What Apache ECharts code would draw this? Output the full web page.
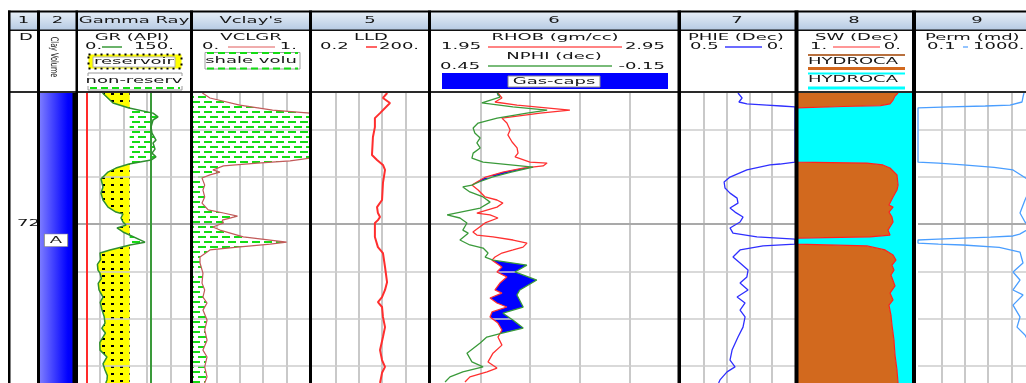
<!DOCTYPE html>
<html>
<head>
<meta charset="utf-8">
<script src="https://cdn.jsdelivr.net/npm/echarts@6/dist/echarts.min.js"></script>
<style>
html,body{margin:0;padding:0;background:#fff;overflow:hidden}
#c{width:1026px;height:383px}
</style>
</head>
<body>
<div id="c"></div>
<script>
// ---------------- log data (depth, value) ----------------
const depthTicks = [7216, 7218, 7220, 7222, 7224, 7226];
const depthMajor = 7220;
const depthLabel = '7220';
const trackTitles = ['1', '2', 'Gamma Ray', "Vclay's", '5', '6', '7', '8', '9'];

const clayZoneTop = [7212.0];
const clayZoneBottom = [7229.36];
const clayZoneName = ['A'];

const grCutoff = 68;   // reservoir / non-reservoir split
const grClean = 14;
const grShale = 94;

const grCurve = [
  [7214.46,34.0],[7214.54,35.8],[7214.88,47.1],[7215.09,67.2],[7215.31,97.3],[7215.47,103.6],
  [7215.60,97.3],[7215.90,94.8],[7216.15,96.0],[7216.45,101.0],[7216.57,97.3],[7216.83,99.8],
  [7217.00,96.0],[7217.16,101.0],[7217.29,94.8],[7217.46,67.2],[7217.63,50.8],[7217.80,40.8],
  [7218.09,32.0],[7218.43,34.5],[7218.69,32.0],[7218.98,34.5],[7219.28,40.8],[7219.49,50.8],
  [7219.57,59.6],[7219.74,57.1],[7219.91,59.6],[7220.04,63.4],[7220.16,52.1],[7220.33,59.6],
  [7220.76,87.2],[7220.88,68.4],[7221.09,43.3],[7221.22,30.8],[7221.50,31.5],[7221.70,27.5],
  [7221.94,28.2],[7222.07,30.8],[7222.30,32.5],[7222.50,28.5],[7222.78,29.5],[7223.08,34.5],
  [7223.30,31.0],[7223.63,33.3],[7223.90,36.0],[7224.18,37.0],[7224.40,33.0],[7224.60,37.5],
  [7224.77,34.5],[7225.00,30.5],[7225.32,30.8],[7225.61,39.5],[7225.90,34.5],[7226.16,37.0],
  [7226.40,40.0],[7226.58,39.5],[7226.71,38.0]
];

const vclCurve = [
  [7214.46,0.08],[7214.54,0.085],[7214.67,0.145],[7214.97,0.40],[7215.18,0.68],[7215.31,1.0],
  [7217.21,1.0],[7217.33,0.83],[7217.42,0.55],[7217.54,0.26],[7217.71,0.17],[7217.80,0.23],
  [7217.92,0.145],[7218.05,0.077],[7218.35,0.10],[7218.56,0.085],[7218.85,0.10],[7219.11,0.077],
  [7219.40,0.13],[7219.53,0.26],[7219.66,0.38],[7219.83,0.25],[7219.95,0.26],[7220.12,0.17],
  [7220.25,0.23],[7220.54,0.43],[7220.76,0.80],[7220.84,0.66],[7220.97,0.38],[7221.09,0.145],
  [7221.39,0.06],[7221.64,0.06],[7222.07,0.085],[7222.49,0.077],[7222.78,0.10],[7223.08,0.085],
  [7223.33,0.12],[7223.63,0.085],[7224.05,0.12],[7224.47,0.10],[7224.90,0.12],[7225.32,0.085],
  [7225.61,0.12],[7226.03,0.10],[7226.45,0.12],[7226.71,0.10]
];

const lldCurve = [
  [7214.46,17.0],[7214.54,17.8],[7214.67,13.2],[7214.88,20.0],[7215.31,11.1],[7215.52,8.2],
  [7215.90,8.2],[7216.32,7.3],[7217.08,6.9],[7217.29,9.3],[7217.50,13.2],[7217.71,14.9],
  [7218.26,13.2],[7218.98,12.5],[7219.28,9.3],[7219.53,9.8],[7219.70,11.1],[7219.83,9.8],
  [7219.95,8.2],[7220.54,8.2],[7220.97,9.8],[7221.22,13.2],[7221.81,14.9],[7222.45,16.8],
  [7222.78,14.9],[7223.08,12.5],[7223.29,9.8],[7223.50,12.5],[7223.92,13.2],[7224.35,14.9],
  [7224.77,13.2],[7225.32,11.1],[7225.74,12.5],[7226.03,14.9],[7226.28,12.5],[7226.71,11.1]
];

const rhobCurve = [
  [7214.46,2.22],[7214.54,2.216],[7214.67,2.236],[7214.84,2.208],[7214.97,2.297],[7215.18,2.51],
  [7215.31,2.39],[7215.52,2.236],[7215.73,2.256],[7216.02,2.269],[7216.23,2.26],[7216.53,2.277],
  [7216.78,2.297],[7217.00,2.301],[7217.16,2.289],[7217.38,2.349],[7217.42,2.418],[7217.54,2.402],
  [7217.63,2.321],[7217.80,2.24],[7218.01,2.17],[7218.22,2.135],[7218.35,2.115],[7218.56,2.14],
  [7218.85,2.168],[7218.98,2.216],[7219.11,2.24],[7219.28,2.216],[7219.49,2.148],[7219.53,2.135],
  [7219.61,2.188],[7219.74,2.22],[7219.95,2.168],[7220.33,2.119],[7220.46,2.135],[7220.54,2.2],
  [7220.67,2.281],[7220.80,2.337],[7220.97,2.321],[7221.09,2.281],[7221.22,2.236],[7221.39,2.208],
  [7221.52,2.196],[7221.81,2.236],[7222.02,2.216],[7222.23,2.256],[7222.49,2.228],[7222.78,2.208],
  [7222.91,2.236],[7223.12,2.188],[7223.33,2.216],[7223.50,2.256],[7223.71,2.196],[7223.92,2.188],
  [7224.18,2.22],[7224.47,2.236],[7224.77,2.22],[7225.11,2.236],[7225.45,2.2],[7225.82,2.18],
  [7226.08,2.216],[7226.24,2.176],[7226.45,2.107],[7226.67,2.087]
];

const nphiCurve = [
  [7214.46,0.29],[7214.54,0.288],[7214.63,0.283],[7214.88,0.327],[7215.05,0.252],[7215.18,0.169],
  [7215.31,0.218],[7215.52,0.29],[7215.73,0.336],[7215.94,0.348],[7216.15,0.344],[7216.36,0.331],
  [7216.57,0.339],[7216.78,0.331],[7217.00,0.348],[7217.21,0.351],[7217.38,0.324],[7217.59,0.203],
  [7217.80,0.256],[7218.01,0.302],[7218.22,0.334],[7218.35,0.351],[7218.43,0.373],[7218.64,0.356],
  [7218.85,0.324],[7219.07,0.307],[7219.32,0.331],[7219.61,0.411],[7219.74,0.38],[7219.95,0.363],
  [7220.25,0.373],[7220.38,0.36],[7220.67,0.38],[7220.88,0.356],[7221.01,0.324],[7221.22,0.312],
  [7221.39,0.319],[7221.52,0.30],[7221.73,0.218],[7222.02,0.247],[7222.36,0.194],[7222.78,0.235],
  [7222.99,0.242],[7223.50,0.227],[7223.76,0.276],[7224.05,0.252],[7224.39,0.227],[7224.60,0.278],
  [7224.77,0.315],[7225.02,0.331],[7225.45,0.363],[7225.82,0.351],[7226.03,0.324],[7226.24,0.373],
  [7226.45,0.404],[7226.67,0.416]
];

const phieCurve = [
  [7214.46,0.25],[7214.67,0.232],[7214.84,0.246],[7214.92,0.211],[7214.97,0.123],[7215.01,0.06],
  [7215.05,0.0],[7217.38,0.0],[7217.46,0.066],[7217.50,0.11],[7217.71,0.211],[7218.01,0.285],
  [7218.22,0.311],[7218.47,0.307],[7218.69,0.285],[7218.90,0.254],[7219.11,0.25],[7219.32,0.285],
  [7219.49,0.263],[7219.70,0.228],[7219.91,0.241],[7220.16,0.285],[7220.38,0.272],[7220.54,0.167],
  [7220.63,0.0],[7220.84,0.0],[7220.92,0.14],[7221.09,0.241],[7221.39,0.272],[7221.64,0.241],
  [7221.94,0.206],[7222.23,0.211],[7222.49,0.241],[7222.78,0.206],[7223.08,0.254],[7223.33,0.219],
  [7223.63,0.241],[7223.92,0.219],[7224.35,0.228],[7224.77,0.25],[7225.32,0.276],[7225.74,0.285],
  [7226.03,0.263],[7226.24,0.298],[7226.58,0.329],[7226.71,0.335]
];

const swCurve = [
  [7214.46,0.129],[7214.59,0.155],[7214.76,0.172],[7214.92,0.198],[7214.99,0.28],[7215.03,0.6],
  [7215.09,1.0],[7217.38,1.0],[7217.42,0.397],[7217.50,0.26],[7217.63,0.198],[7217.92,0.138],
  [7218.35,0.129],[7218.56,0.138],[7218.85,0.172],[7219.19,0.207],[7219.28,0.172],[7219.49,0.207],
  [7219.70,0.181],[7219.91,0.172],[7220.25,0.216],[7220.46,0.198],[7220.54,0.37],[7220.59,1.0],
  [7220.84,1.0],[7220.92,0.397],[7221.09,0.241],[7221.30,0.172],[7221.52,0.147],[7221.73,0.181],
  [7221.94,0.164],[7222.15,0.19],[7222.61,0.155],[7222.91,0.198],[7223.20,0.172],[7223.42,0.207],
  [7223.84,0.19],[7224.26,0.181],[7224.90,0.164],[7225.53,0.155],[7226.16,0.138],[7226.71,0.129]
];

const permCurve = [
  [7214.46,420],[7214.63,389],[7214.84,360],[7214.97,140],[7215.01,20],[7215.05,1.2],[7215.09,0.1],
  [7217.38,0.1],[7217.42,0.5],[7217.50,3.5],[7217.60,40],[7217.71,177],[7218.13,600],[7218.56,650],
  [7218.98,455],[7219.53,307],[7219.91,455],[7220.16,700],[7220.42,300],[7220.50,177],[7220.55,30],
  [7220.59,3.45],[7220.64,0.3],[7220.67,0.1],[7220.80,0.1],[7220.84,0.5],[7220.88,3.45],[7220.98,60],
  [7221.18,307],[7221.64,389],[7222.02,177],[7222.36,307],[7222.78,177],[7222.99,389],[7223.42,177],
  [7223.92,307],[7224.35,243],[7224.68,455],[7225.11,700],[7225.74,900],[7226.71,900]
];

// ---------------- scales ----------------
const depthTop = 7214.46, depthBottom = 7226.71;
const GR = [0, 150], VCL = [0, 1], LLD = [0.2, 200], RHOB = [1.95, 2.95], NPHI = [-0.15, 0.45],
      PHIE = [0, 0.5], SW = [0, 1], PERM = [0.1, 1000];

const lin = r => v => (v - r[0]) / (r[1] - r[0]);
const rev = r => v => (r[1] - v) / (r[1] - r[0]);

// piecewise-linear lookup of a curve's track fraction at depth d
function profile(curve, f) {
  const ds = curve.map(p => p[0]), fs = curve.map(p => f(p[1]));
  const fn = d => {
    if (d <= ds[0]) return fs[0];
    if (d >= ds[ds.length - 1]) return fs[fs.length - 1];
    let i = 1; while (ds[i] < d) i++;
    const t = (d - ds[i - 1]) / (ds[i] - ds[i - 1]);
    return fs[i - 1] + t * (fs[i] - fs[i - 1]);
  };
  fn.depths = ds;
  return fn;
}
const constant = c => { const fn = () => c; fn.depths = []; return fn; };

// polygons (in [fraction, depth]) where rightF(d) > leftF(d)
function band(leftF, rightF) {
  let ds = leftF.depths.concat(rightF.depths);
  const lo = Math.max(leftF.depths.length ? leftF.depths[0] : -Infinity, rightF.depths.length ? rightF.depths[0] : -Infinity);
  const hi = Math.min(leftF.depths.length ? leftF.depths[leftF.depths.length - 1] : Infinity, rightF.depths.length ? rightF.depths[rightF.depths.length - 1] : Infinity);
  ds = Array.from(new Set(ds)).filter(d => d >= lo && d <= hi).sort((a, b) => a - b);
  const polys = []; let cur = null;
  for (let i = 0; i < ds.length; i++) {
    const d = ds[i], l = leftF(d), r = rightF(d), g = r - l;
    if (i > 0) {
      const dp = ds[i - 1], lp = leftF(dp), gp = rightF(dp) - lp;
      if ((gp > 0) !== (g > 0)) {
        const t = gp / (gp - g);
        const dc = dp + t * (d - dp), xc = lp + t * (l - lp);
        if (cur) { cur.L.push([xc, dc]); cur.R.push([xc, dc]); polys.push(cur); cur = null; }
        else cur = { L: [[xc, dc]], R: [[xc, dc]] };
      }
    }
    if (g > 0) { if (!cur) cur = { L: [], R: [] }; cur.L.push([l, d]); cur.R.push([r, d]); }
  }
  if (cur) polys.push(cur);
  return polys.map(p => p.L.concat(p.R.slice().reverse()));
}

// ---------------- fill patterns ----------------
function pattern(w, h, bg, draw) {
  const c = document.createElement('canvas');
  c.width = w; c.height = h;
  const g = c.getContext('2d');
  g.fillStyle = bg; g.fillRect(0, 0, w, h);
  draw(g);
  return { image: c, repeat: 'repeat' };
}
const sandFill = pattern(9, 7, '#ffff00', g => { g.fillStyle = '#000'; g.fillRect(3, 2, 3, 2); });
const shaleFill = pattern(24, 10, '#ffffff', g => {
  g.fillStyle = '#14dc14';
  g.fillRect(0, 1, 8, 2); g.fillRect(12, 1, 8, 2);
  g.fillRect(6, 6, 8, 2); g.fillRect(18, 6, 6, 2); g.fillRect(0, 6, 2, 2);
});

// ---------------- chart assembly ----------------
const grids = [], xAxes = [], yAxes = [], series = [];
const TOP = 93, H = 290;

function track(left, width, gridLines, depthLines) {
  const gi = grids.length;
  grids.push({ left, top: TOP, width, height: H, show: false, containLabel: false, outerBoundsMode: 'none' });
  yAxes.push({ type: 'value', gridIndex: gi, inverse: true, min: depthTop, max: depthBottom, show: false });
  const xi = xAxes.length;
  xAxes.push({
    type: 'value', gridIndex: gi, min: 0, max: 1, interval: 0.2, show: true,
    axisLine: { show: false }, axisTick: { show: false }, axisLabel: { show: false },
    splitLine: { show: gridLines, showMinLine: false, showMaxLine: false, lineStyle: { color: '#c9c9c9', width: 2 } }
  });
  if (depthLines) {
    series.push({
      type: 'line', xAxisIndex: xi, yAxisIndex: gi, data: [], silent: true, z: 1, animation: false,
      markLine: {
        silent: true, symbol: 'none', animation: false, label: { show: false },
        data: depthTicks.map(d => ({ yAxis: d, lineStyle: { color: d === depthMajor ? '#a9a9a9' : '#cdcdcd', width: d === depthMajor ? 2 : 1.5, type: 'solid' } }))
      }
    });
  }
  return { gi, xi };
}
function dataAxis(gi, opts) {
  xAxes.push(Object.assign({ gridIndex: gi, show: false }, opts));
  return xAxes.length - 1;
}
function curve(gi, xi, data, color, width) {
  series.push({
    type: 'line', xAxisIndex: xi, yAxisIndex: gi, data: data.map(p => [p[1], p[0]]),
    showSymbol: false, symbol: 'none', silent: true, animation: false, clip: true, z: 6,
    lineStyle: { color, width }
  });
}
function fill(gi, xi, polys, fillStyle) {
  series.push({
    type: 'custom', xAxisIndex: xi, yAxisIndex: gi, data: [[0.5, (depthTop + depthBottom) / 2]],
    silent: true, animation: false, clip: true, z: 3,
    renderItem: (params, api) => ({
      type: 'group',
      children: polys.map(p => ({ type: 'polygon', shape: { points: p.map(q => api.coord(q)) }, style: { fill: fillStyle, stroke: null } }))
    })
  });
}
function vline(gi, xi, value, color) {
  series.push({
    type: 'line', xAxisIndex: xi, yAxisIndex: gi, data: [], silent: true, z: 4, animation: false,
    markLine: { silent: true, symbol: 'none', animation: false, label: { show: false },
      data: [{ xAxis: value, lineStyle: { color, width: 2, type: 'solid' } }] }
  });
}

const FONT = '9px "DejaVu Sans", Verdana, sans-serif';

// track 2: clay volume zones
const tClay = track(40, 33, false, false);
const clayGradient = new echarts.graphic.LinearGradient(0, 0, 1, 0, [
  { offset: 0, color: '#7b7bff' }, { offset: 0.85, color: '#0000ff' }, { offset: 1, color: '#0000f0' }
]);
series.push({
  type: 'custom', xAxisIndex: tClay.xi, yAxisIndex: tClay.gi, silent: true, animation: false, z: 3,
  data: clayZoneName.map((n, i) => [0.5, (clayZoneTop[i] + clayZoneBottom[i]) / 2]),
  renderItem: (params, api) => {
    const i = params.dataIndex, cs = params.coordSys;
    const p0 = api.coord([0, clayZoneTop[i]]), p1 = api.coord([1, clayZoneBottom[i]]);
    const r = echarts.graphic.clipRectByRect(
      { x: p0[0], y: p0[1], width: p1[0] - p0[0], height: p1[1] - p0[1] },
      { x: cs.x, y: cs.y, width: cs.width, height: cs.height });
    const mid = api.coord([0.5, (clayZoneTop[i] + clayZoneBottom[i]) / 2]);
    return { type: 'group', children: [
      { type: 'rect', shape: r, style: { fill: clayGradient } },
      { type: 'text', x: mid[0] - 0.5, y: mid[1], scaleX: 2, z2: 10,
        style: { text: clayZoneName[i], font: FONT, fill: '#222', align: 'center', verticalAlign: 'middle',
                 backgroundColor: '#fff', borderColor: '#8a8a8a', borderWidth: 0.5, padding: [2, 2.5, 1, 2.5] } }
    ] };
  }
});

// track 3: gamma ray with reservoir / non-reservoir shading
const tGr = track(75.5, 119.5, true, true);
const xGr = dataAxis(tGr.gi, { type: 'value', min: GR[0], max: GR[1] });
const grF = profile(grCurve, lin(GR));
fill(tGr.gi, tGr.xi, band(grF, constant(lin(GR)(grCutoff))), sandFill);
fill(tGr.gi, tGr.xi, band(constant(lin(GR)(grCutoff)), grF), shaleFill);
vline(tGr.gi, xGr, grClean, '#ff2a2a');
vline(tGr.gi, xGr, grShale, '#3a9a3a');
curve(tGr.gi, xGr, grCurve, '#2f8f2f', 1.5);

// track 4: clay volume from GR
const tVcl = track(193, 117, true, true);
const xVcl = dataAxis(tVcl.gi, { type: 'value', min: VCL[0], max: VCL[1] });
fill(tVcl.gi, tVcl.xi, band(constant(0), profile(vclCurve, lin(VCL))), shaleFill);
curve(tVcl.gi, xVcl, vclCurve, '#c25a5a', 1.2);

// track 5: deep resistivity
const tLld = track(312, 117, true, true);
const xLld = dataAxis(tLld.gi, { type: 'log', logBase: 10, min: LLD[0], max: LLD[1] });
curve(tLld.gi, xLld, lldCurve, '#ff2e2e', 2);

// track 6: density / neutron with gas crossover
const tDen = track(431, 248, true, true);
const xRhob = dataAxis(tDen.gi, { type: 'value', min: RHOB[0], max: RHOB[1] });
const xNphi = dataAxis(tDen.gi, { type: 'value', min: NPHI[0], max: NPHI[1], inverse: true });
fill(tDen.gi, tDen.xi, band(profile(rhobCurve, lin(RHOB)), profile(nphiCurve, rev(NPHI))), '#0000ff');
curve(tDen.gi, xRhob, rhobCurve, '#ff3030', 1.3);
curve(tDen.gi, xNphi, nphiCurve, '#3a9a3a', 1.3);

// track 7: effective porosity
const tPhie = track(681, 114, true, true);
const xPhie = dataAxis(tPhie.gi, { type: 'value', min: PHIE[0], max: PHIE[1], inverse: true });
curve(tPhie.gi, xPhie, phieCurve, '#2f2fff', 1.3);

// track 8: water saturation
const tSw = track(797, 116, false, false);
const xSw = dataAxis(tSw.gi, { type: 'value', min: SW[0], max: SW[1], inverse: true });
const swF = profile(swCurve, rev(SW));
fill(tSw.gi, tSw.xi, band(constant(0), swF), '#d2691e');
fill(tSw.gi, tSw.xi, band(swF, constant(1)), '#00ffff');
curve(tSw.gi, xSw, swCurve, '#ff2020', 1.2);

// track 9: permeability
const tPerm = track(918, 117, true, true);
const xPerm = dataAxis(tPerm.gi, { type: 'log', logBase: 10, min: PERM[0], max: PERM[1] });
curve(tPerm.gi, xPerm, permCurve, '#4a9eff', 1.3);

const chart = echarts.init(document.getElementById('c'), null, { renderer: 'canvas' });
chart.setOption({
  animation: false,
  backgroundColor: '#ffffff',
  grid: grids, xAxis: xAxes, yAxis: yAxes, series
});

// ---------------- headers, borders and depth annotation ----------------
const G = [];
function T(x, y, s, align, styleExtra, extra) {
  G.push(Object.assign({
    type: 'text', x, y, scaleX: 2, z: 130, silent: true,
    style: Object.assign({ text: s, font: FONT, fill: '#141414', align: align || 'center', verticalAlign: 'middle' }, styleExtra || {})
  }, extra || {}));
}
function R(x, y, w, h, style, z) { G.push({ type: 'rect', shape: { x, y, width: w, height: h }, style, z: z || 110, silent: true }); }
function L(x1, y1, x2, y2, stroke, lw, dash) {
  G.push({ type: 'line', shape: { x1, y1, x2, y2 }, style: { stroke, lineWidth: lw || 1, lineDash: dash || null }, z: 115, silent: true });
}

// title row
R(8, 12, 1018, 18, { fill: new echarts.graphic.LinearGradient(0, 0, 0, 1, [{ offset: 0, color: '#e6eef7' }, { offset: 1, color: '#b6cae3' }]) });
R(8, 31, 1018, 60, { fill: '#ffffff' }, 105);
const titleX = [23.5, 57.5, 134, 251, 370, 554, 737, 854, 977];
trackTitles.forEach((t, i) => T(titleX[i], 21, t));

// frame
R(8, 10.5, 1018, 2, { fill: '#000' }, 120);
R(8, 29.5, 1018, 1.5, { fill: '#111' }, 120);
R(8, 91, 1018, 2, { fill: '#2a2a2a' }, 120);
[[8, 2.5], [37, 3], [75.5, 2.5], [190, 3], [309, 3], [428, 3], [677.5, 3.5], [794.5, 4], [912, 4]]
  .forEach(b => R(b[0], 10.5, b[1], 373, { fill: '#000' }, 120));
R(72.5, 93, 3.5, 290, { fill: '#000' }, 120);

// track 1 / 2 headers
T(26, 37.5, 'D');
G.push({ type: 'text', x: 54, y: 57, rotation: -Math.PI / 2, scaleY: 1.6, z: 130, silent: true,
  style: { text: 'Clay Volume', font: '6.5px "DejaVu Sans", sans-serif', fill: '#141414', align: 'center', verticalAlign: 'middle' } });

// gamma ray header
T(132, 37.5, 'GR (API)');
T(85, 47, '0.', 'left');
L(102, 47, 122, 47, '#3a9a3a', 1.5);
T(174, 47, '150.', 'right');
R(88.5, 54.5, 93, 14, { fill: '#ffff00', stroke: '#000', lineWidth: 2, lineDash: [2, 4] });
R(93, 57, 82, 10, { fill: '#ffffff', stroke: '#b0b0b0', lineWidth: 1 }, 112);
T(134, 62, 'reservoir');
L(88, 73, 182, 73, '#9a9a9a', 1); L(88, 73, 88, 76, '#9a9a9a', 1); L(182, 73, 182, 76, '#9a9a9a', 1);
T(134, 81, 'non-reserv');
L(88, 90, 182, 90, '#9a9a9a', 1); L(88, 86, 88, 90, '#9a9a9a', 1); L(182, 86, 182, 90, '#9a9a9a', 1);
L(90, 88, 180, 88, '#14dc14', 2, [7, 4]);

// vclay header
T(251, 37.5, 'VCLGR');
T(202, 47, '0.', 'left');
L(228, 47, 275, 47, '#e05a5a', 1);
T(297, 47, '1.', 'right');
R(205, 52.5, 95, 16.5, { fill: null, stroke: '#a0a0a0', lineWidth: 1 });
L(207, 53, 298, 53, '#14dc14', 2, [7, 4]);
L(207, 68.5, 298, 68.5, '#14dc14', 2, [7, 4]);
T(251, 61, 'shale volu');

// resistivity header
T(371, 37.5, 'LLD');
T(320, 47, '0.2', 'left');
L(366, 47, 377, 47, '#ff3030', 1.5);
T(379, 47, '200.', 'left');

// density / neutron header
T(555, 37.5, 'RHOB (gm/cc)');
T(441, 47, '1.95', 'left');
L(488, 47, 622, 47, '#ff5a5a', 1.5);
T(665, 47, '2.95', 'right');
T(554, 57, 'NPHI (dec)');
T(440, 66.5, '0.45', 'left');
L(488, 66, 612, 66, '#79bb79', 2);
T(665, 66.5, '-0.15', 'right');
R(442, 73, 226, 16, { fill: '#0000ff' });
R(508, 76, 92, 11, { fill: '#ffffff', stroke: '#8a8a8a', lineWidth: 1 }, 112);
T(554, 81.5, 'Gas-caps');

// porosity header
T(688, 37.5, 'PHIE (Dec)', 'left');
T(690, 47, '0.5', 'left');
L(725, 47, 762, 47, '#3b3bff', 1.5);
T(784, 47, '0.', 'right');

// saturation header
T(857, 37.5, 'SW (Dec)');
T(810, 47, '1.', 'left');
L(833, 47, 880, 47, '#ff3030', 1.2);
T(901, 47, '0.', 'right');
L(808, 55, 905, 55, '#b8703e', 2);
T(808, 61.5, 'HYDROCA', 'left');
R(808, 67, 97, 3, { fill: '#d2691e' });
R(808, 72.5, 97, 2, { fill: '#00ffff' });
T(808, 80, 'HYDROCA', 'left');
R(808, 86.5, 97, 3, { fill: '#00ffff' });

// permeability header
T(925, 37.5, 'Perm (md)', 'left');
T(927, 47, '0.1', 'left');
L(963, 47, 968, 47, '#6fb0ff', 1.5);
T(973, 47, '1000.', 'left');

// depth annotation, clipped by the depth track width
const yMajor = chart.convertToPixel({ xAxisIndex: tClay.xi, yAxisIndex: tClay.gi }, [0.5, depthMajor])[1];
T(17, yMajor - 0.5, depthLabel, 'left', { width: 15, overflow: 'truncate', ellipsis: '' }, { z: 100 });

chart.setOption({ graphic: { elements: G } });
</script>
</body>
</html>
